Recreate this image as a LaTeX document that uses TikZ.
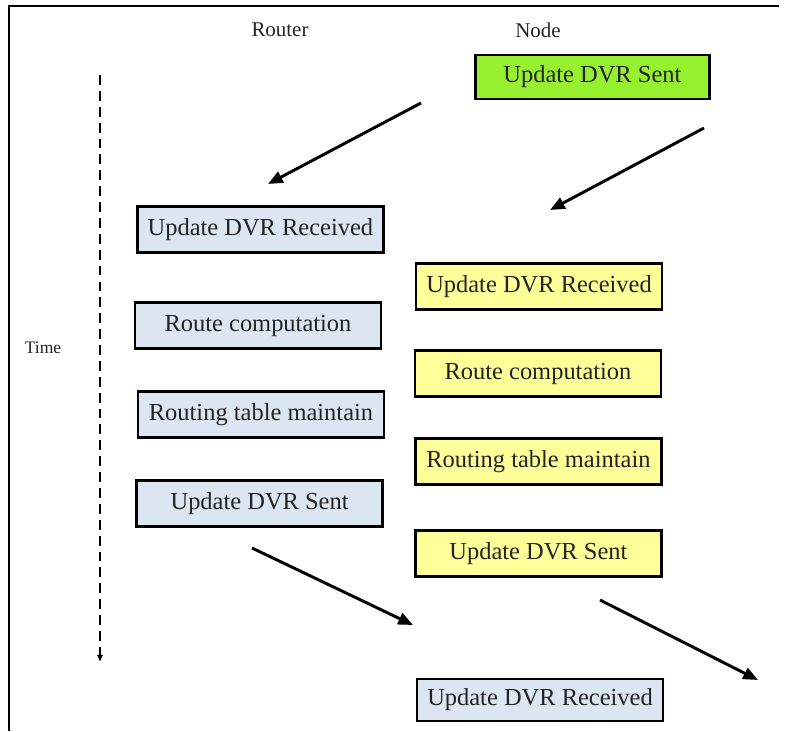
\documentclass[tikz,border=0pt]{standalone}
\usepackage{fontspec}
\setmainfont{Liberation Serif}
\usetikzlibrary{arrows.meta}
\definecolor{routerblue}{RGB}{220,230,242}
\definecolor{nodeyellow}{RGB}{255,255,153}
\definecolor{sentgreen}{RGB}{150,240,45}
\definecolor{textgray}{RGB}{35,35,35}
\begin{document}
\begin{tikzpicture}[
    stepbox/.style={draw=black,line width=1.9pt,minimum width=6.15cm,minimum height=1.15cm,
      inner sep=0pt,text=textgray,font=\fontsize{17.4}{20}\selectfont},
    routerbox/.style={stepbox,fill=routerblue},
    nodebox/.style={stepbox,fill=nodeyellow},
    sentbox/.style={stepbox,fill=sentgreen,minimum width=5.85cm,minimum height=1.1cm},
    head/.style={text=textgray,font=\fontsize{14.9}{17}\selectfont},
    msg/.style={line width=2.1pt,-{Triangle[length=10.5pt,width=8.5pt]}}
  ]
  \useasboundingbox (0,0) rectangle (19.7,-18.275);
  % Frame
  \draw[line width=1.4pt] (0.225,-18.275) -- (0.225,-0.15) -- (19.475,-0.15);
  % Nodes: headings
  \node[head] (router) at (7.0,-0.75) {Router};
  \node[head] (node) at (13.45,-0.75) {Node};
  \node[text=textgray,font=\fontsize{12.5}{15}\selectfont] (time) at (1.075,-8.7) {Time};
  % Nodes: router side
  \node[routerbox] (rrecv) at (6.51,-5.74) {Update DVR Received};
  \node[routerbox] (rcomp) at (6.45,-8.14) {Route computation};
  \node[routerbox] (rtable) at (6.525,-10.36) {Routing table maintain};
  \node[routerbox] (rsent) at (6.49,-12.59) {Update DVR Sent};
  % Nodes: node side
  \node[sentbox] (nsent0) at (14.81,-1.925) {Update DVR Sent};
  \node[nodebox] (nrecv) at (13.475,-7.16) {Update DVR Received};
  \node[nodebox] (ncomp) at (13.45,-9.34) {Route computation};
  \node[nodebox] (ntable) at (13.46,-11.54) {Routing table maintain};
  \node[nodebox] (nsent) at (13.46,-13.83) {Update DVR Sent};
  \node[routerbox,minimum height=1.05cm] (nrecv2) at (13.5,-17.5) {Update DVR Received};
  % Arrows: time axis
  \coordinate (t0) at (2.5,-1.875);
  \coordinate (t1) at (2.5,-16.55);
  \draw[line width=1.4pt,dash pattern=on 7pt off 4.3pt,-{Latex[length=5pt,width=4.5pt]}] (t0) -- (t1);
  % Arrows: messages
  \coordinate (a1s) at (10.525,-2.575);
  \coordinate (a1e) at (6.7,-4.6);
  \coordinate (a2s) at (17.6,-3.2);
  \coordinate (a2e) at (13.75,-5.25);
  \coordinate (a3s) at (6.3,-13.7);
  \coordinate (a3e) at (10.325,-15.625);
  \coordinate (a4s) at (15.0,-15.0);
  \coordinate (a4e) at (18.95,-17.0);
  \draw[msg] (a1s) -- (a1e);
  \draw[msg] (a2s) -- (a2e);
  \draw[msg] (a3s) -- (a3e);
  \draw[msg] (a4s) -- (a4e);
\end{tikzpicture}
\end{document}
